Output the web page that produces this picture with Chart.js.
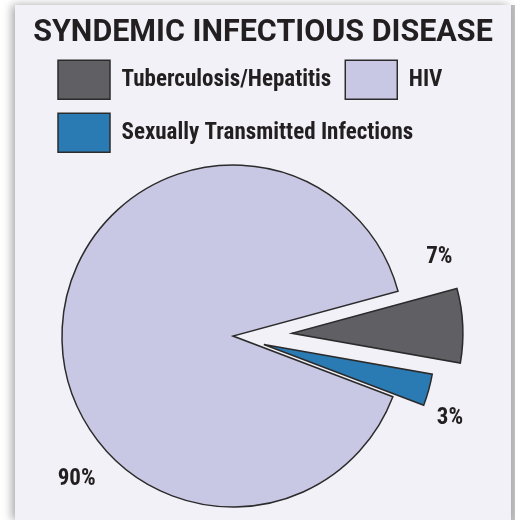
<!DOCTYPE html>
<html>
<head>
<meta charset="utf-8">
<script src="https://cdn.jsdelivr.net/npm/chart.js@4"></script>
<style>
  html, body { margin: 0; padding: 0; background: #fff; }
  body { width: 515px; height: 520px; overflow: hidden; position: relative; }
  .card {
    position: absolute; left: 15px; top: 5px; width: 496px; height: 515px;
    background: #f2f1f8;
    box-shadow: -3px 0 9px rgba(0, 0, 0, 0.35), 4px 0 0 #c2c2c2;
  }
  canvas { display: block; }
</style>
</head>
<body>
<div class="card"><canvas id="pie" width="496" height="515"></canvas></div>
<script>
// 数据（按顺时针绘制顺序）
const sliceLabels = ['Tuberculosis/Hepatitis', 'Sexually Transmitted Infections', 'HIV'];
const sliceValues = [7, 3, 90];
const legendOrder = ['Tuberculosis/Hepatitis', 'HIV', 'Sexually Transmitted Infections'];

// 样式
const sliceColors = ['#5f5f64', '#2a7ab4', '#c8c8e4'];
const explode = [59, 32, 0];
const labelTurn = [-24.7, 6.1, -45.3];
const labelReach = [0.97, 1.17, 1.24];
const NARROW = '"Roboto Condensed", "Liberation Sans Narrow", Roboto, sans-serif';

// 饼图与标题位置
const pieArea = {
    id: 'pieArea',
    afterLayout(chart) {
        const cx = 218, cy = 331, r = 171;
        Object.assign(chart.chartArea, {
            left: cx - r, right: cx + r, top: cy - r, bottom: cy + r,
            width: 2 * r, height: 2 * r
        });
        // 标题不受左右留白限制
        const t = chart.titleBlock;
        if (t) {
            t.left = 8;
            t.right = 488;
            t.width = 480;
        }
    }
};

// 扇区分离
const explodeSlices = {
    id: 'explodeSlices',
    afterDatasetUpdate(chart, args) {
        args.meta.data.forEach((arc, i) => {
            const mid = (arc.startAngle + arc.endAngle) / 2;
            arc.x += Math.cos(mid) * explode[i];
            arc.y += Math.sin(mid) * explode[i];
        });
    }
};

// 百分比标签
const pctLabels = {
    id: 'pctLabels',
    afterDatasetsDraw(chart) {
        const ctx = chart.ctx;
        const meta = chart.getDatasetMeta(0);
        ctx.save();
        ctx.font = `bold 23px ${NARROW}`;
        ctx.fillStyle = '#231f20';
        ctx.textAlign = 'center';
        ctx.textBaseline = 'middle';
        meta.data.forEach((arc, i) => {
            const a = (arc.startAngle + arc.endAngle) / 2 + labelTurn[i] * Math.PI / 180;
            const d = arc.outerRadius * labelReach[i];
            ctx.fillText(sliceValues[i] + '%', arc.x + Math.cos(a) * d, arc.y + Math.sin(a) * d);
        });
        ctx.restore();
    }
};

new Chart(document.getElementById('pie'), {
    type: 'pie',
    data: {
        labels: sliceLabels,
        datasets: [{
            data: sliceValues,
            backgroundColor: sliceColors,
            borderColor: '#2b2b2b',
            borderWidth: 1.5,
            borderJoinStyle: 'miter'
        }]
    },
    options: {
        responsive: false,
        devicePixelRatio: 1,
        animation: false,
        events: [],
        rotation: 74.8,
        radius: 171,
        layout: { padding: { left: 29, right: 25, top: 0, bottom: 0 } },
        plugins: {
            title: {
                display: true,
                text: 'SYNDEMIC INFECTIOUS DISEASE',
                color: '#231f20',
                font: { family: 'Roboto, sans-serif', size: 30.5, weight: 'bold', lineHeight: 0.7 },
                padding: { top: 18, bottom: 2 }
            },
            legend: {
                position: 'top',
                align: 'start',
                labels: {
                    boxWidth: 52,
                    boxHeight: 39,
                    padding: 14,
                    color: '#231f20',
                    font: { family: NARROW, size: 23, weight: 'bold' },
                    sort: (a, b) => legendOrder.indexOf(a.text) - legendOrder.indexOf(b.text)
                }
            },
            tooltip: { enabled: false }
        }
    },
    plugins: [pieArea, explodeSlices, pctLabels]
});
</script>
</body>
</html>
